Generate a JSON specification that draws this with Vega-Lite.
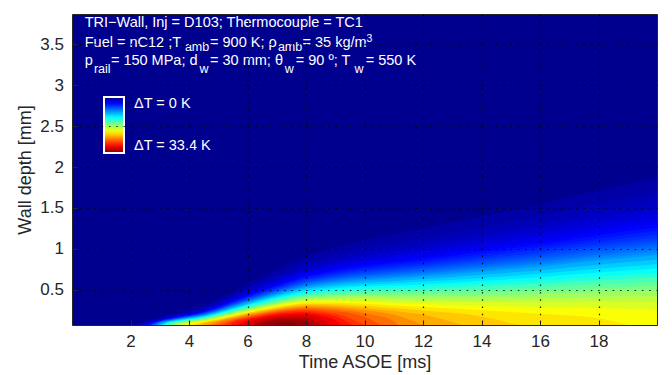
{
  "$schema": "https://vega.github.io/schema/vega-lite/v6.json",
  "width": 585,
  "height": 311,
  "autosize": "none",
  "padding": {"left": 72, "top": 14, "right": 15, "bottom": 50},
  "background": "white",
  "config": {
    "view": {"fill": "#00008F", "stroke": "#262626", "strokeWidth": 1},
    "font": "Liberation Sans"
  },
  "datasets": {
    "bands": [
      {"T":0.75,"t":2.104,"d":0.07},{"T":0.75,"t":2.25,"d":0.093},{"T":0.75,"t":2.5,"d":0.117},{"T":0.75,"t":2.75,"d":0.141},{"T":0.75,"t":3,"d":0.165},{"T":0.75,"t":3.25,"d":0.189},{"T":0.75,"t":3.5,"d":0.211},{"T":0.75,"t":3.75,"d":0.232},{"T":0.75,"t":4,"d":0.254},{"T":0.75,"t":4.5,"d":0.305},{"T":0.75,"t":5,"d":0.388},{"T":0.75,"t":5.5,"d":0.482},{"T":0.75,"t":6,"d":0.577},{"T":0.75,"t":6.5,"d":0.662},{"T":0.75,"t":7,"d":0.746},{"T":0.75,"t":7.5,"d":0.828},{"T":0.75,"t":8,"d":0.908},{"T":0.75,"t":8.5,"d":0.964},{"T":0.75,"t":9,"d":1.019},{"T":0.75,"t":10,"d":1.109},{"T":0.75,"t":11,"d":1.179},{"T":0.75,"t":12,"d":1.25},{"T":0.75,"t":14,"d":1.397},{"T":0.75,"t":16,"d":1.546},{"T":0.75,"t":18,"d":1.715},{"T":0.75,"t":20,"d":1.866},
      {"T":1.25,"t":2.208,"d":0.07},{"T":1.25,"t":2.25,"d":0.081},{"T":1.25,"t":2.5,"d":0.107},{"T":1.25,"t":2.75,"d":0.13},{"T":1.25,"t":3,"d":0.153},{"T":1.25,"t":3.25,"d":0.176},{"T":1.25,"t":3.5,"d":0.196},{"T":1.25,"t":3.75,"d":0.216},{"T":1.25,"t":4,"d":0.236},{"T":1.25,"t":4.5,"d":0.283},{"T":1.25,"t":5,"d":0.359},{"T":1.25,"t":5.5,"d":0.445},{"T":1.25,"t":6,"d":0.532},{"T":1.25,"t":6.5,"d":0.61},{"T":1.25,"t":7,"d":0.688},{"T":1.25,"t":7.5,"d":0.763},{"T":1.25,"t":8,"d":0.835},{"T":1.25,"t":8.5,"d":0.885},{"T":1.25,"t":9,"d":0.935},{"T":1.25,"t":10,"d":1.014},{"T":1.25,"t":11,"d":1.076},{"T":1.25,"t":12,"d":1.14},{"T":1.25,"t":14,"d":1.27},{"T":1.25,"t":16,"d":1.403},{"T":1.25,"t":18,"d":1.556},{"T":1.25,"t":20,"d":1.69},
      {"T":1.75,"t":2.292,"d":0.07},{"T":1.75,"t":2.5,"d":0.1},{"T":1.75,"t":2.75,"d":0.124},{"T":1.75,"t":3,"d":0.147},{"T":1.75,"t":3.25,"d":0.169},{"T":1.75,"t":3.5,"d":0.188},{"T":1.75,"t":3.75,"d":0.207},{"T":1.75,"t":4,"d":0.226},{"T":1.75,"t":4.5,"d":0.271},{"T":1.75,"t":5,"d":0.34},{"T":1.75,"t":5.5,"d":0.422},{"T":1.75,"t":6,"d":0.504},{"T":1.75,"t":6.5,"d":0.578},{"T":1.75,"t":7,"d":0.651},{"T":1.75,"t":7.5,"d":0.722},{"T":1.75,"t":8,"d":0.789},{"T":1.75,"t":8.5,"d":0.836},{"T":1.75,"t":9,"d":0.881},{"T":1.75,"t":10,"d":0.954},{"T":1.75,"t":11,"d":1.011},{"T":1.75,"t":12,"d":1.069},{"T":1.75,"t":14,"d":1.189},{"T":1.75,"t":16,"d":1.312},{"T":1.75,"t":18,"d":1.453},{"T":1.75,"t":20,"d":1.578},
      {"T":2.25,"t":2.361,"d":0.07},{"T":2.25,"t":2.5,"d":0.092},{"T":2.25,"t":2.75,"d":0.117},{"T":2.25,"t":3,"d":0.14},{"T":2.25,"t":3.25,"d":0.161},{"T":2.25,"t":3.5,"d":0.18},{"T":2.25,"t":3.75,"d":0.198},{"T":2.25,"t":4,"d":0.216},{"T":2.25,"t":4.5,"d":0.258},{"T":2.25,"t":5,"d":0.326},{"T":2.25,"t":5.5,"d":0.404},{"T":2.25,"t":6,"d":0.483},{"T":2.25,"t":6.5,"d":0.553},{"T":2.25,"t":7,"d":0.623},{"T":2.25,"t":7.5,"d":0.691},{"T":2.25,"t":8,"d":0.755},{"T":2.25,"t":8.5,"d":0.799},{"T":2.25,"t":9,"d":0.841},{"T":2.25,"t":10,"d":0.909},{"T":2.25,"t":11,"d":0.962},{"T":2.25,"t":12,"d":1.016},{"T":2.25,"t":14,"d":1.128},{"T":2.25,"t":16,"d":1.243},{"T":2.25,"t":18,"d":1.376},{"T":2.25,"t":20,"d":1.493},
      {"T":2.75,"t":2.431,"d":0.07},{"T":2.75,"t":2.5,"d":0.081},{"T":2.75,"t":2.75,"d":0.113},{"T":2.75,"t":3,"d":0.135},{"T":2.75,"t":3.25,"d":0.156},{"T":2.75,"t":3.5,"d":0.175},{"T":2.75,"t":3.75,"d":0.192},{"T":2.75,"t":4,"d":0.21},{"T":2.75,"t":4.5,"d":0.25},{"T":2.75,"t":5,"d":0.315},{"T":2.75,"t":5.5,"d":0.39},{"T":2.75,"t":6,"d":0.465},{"T":2.75,"t":6.5,"d":0.534},{"T":2.75,"t":7,"d":0.601},{"T":2.75,"t":7.5,"d":0.665},{"T":2.75,"t":8,"d":0.727},{"T":2.75,"t":8.5,"d":0.768},{"T":2.75,"t":9,"d":0.808},{"T":2.75,"t":10,"d":0.872},{"T":2.75,"t":11,"d":0.921},{"T":2.75,"t":12,"d":0.972},{"T":2.75,"t":14,"d":1.078},{"T":2.75,"t":16,"d":1.187},{"T":2.75,"t":18,"d":1.313},{"T":2.75,"t":20,"d":1.424},
      {"T":3.25,"t":2.5,"d":0.07},{"T":3.25,"t":2.75,"d":0.108},{"T":3.25,"t":3,"d":0.13},{"T":3.25,"t":3.25,"d":0.151},{"T":3.25,"t":3.5,"d":0.169},{"T":3.25,"t":3.75,"d":0.186},{"T":3.25,"t":4,"d":0.203},{"T":3.25,"t":4.5,"d":0.242},{"T":3.25,"t":5,"d":0.305},{"T":3.25,"t":5.5,"d":0.378},{"T":3.25,"t":6,"d":0.451},{"T":3.25,"t":6.5,"d":0.517},{"T":3.25,"t":7,"d":0.582},{"T":3.25,"t":7.5,"d":0.644},{"T":3.25,"t":8,"d":0.703},{"T":3.25,"t":8.5,"d":0.742},{"T":3.25,"t":9,"d":0.781},{"T":3.25,"t":10,"d":0.841},{"T":3.25,"t":11,"d":0.887},{"T":3.25,"t":12,"d":0.935},{"T":3.25,"t":14,"d":1.036},{"T":3.25,"t":16,"d":1.139},{"T":3.25,"t":18,"d":1.258},{"T":3.25,"t":20,"d":1.364},
      {"T":3.75,"t":2.542,"d":0.07},{"T":3.75,"t":2.75,"d":0.104},{"T":3.75,"t":3,"d":0.127},{"T":3.75,"t":3.25,"d":0.147},{"T":3.75,"t":3.5,"d":0.165},{"T":3.75,"t":3.75,"d":0.182},{"T":3.75,"t":4,"d":0.198},{"T":3.75,"t":4.5,"d":0.236},{"T":3.75,"t":5,"d":0.297},{"T":3.75,"t":5.5,"d":0.367},{"T":3.75,"t":6,"d":0.438},{"T":3.75,"t":6.5,"d":0.502},{"T":3.75,"t":7,"d":0.565},{"T":3.75,"t":7.5,"d":0.625},{"T":3.75,"t":8,"d":0.682},{"T":3.75,"t":8.5,"d":0.72},{"T":3.75,"t":9,"d":0.756},{"T":3.75,"t":10,"d":0.813},{"T":3.75,"t":11,"d":0.857},{"T":3.75,"t":12,"d":0.902},{"T":3.75,"t":14,"d":0.998},{"T":3.75,"t":16,"d":1.097},{"T":3.75,"t":18,"d":1.211},{"T":3.75,"t":20,"d":1.312},
      {"T":4.25,"t":2.583,"d":0.07},{"T":4.25,"t":2.75,"d":0.099},{"T":4.25,"t":3,"d":0.123},{"T":4.25,"t":3.25,"d":0.143},{"T":4.25,"t":3.5,"d":0.16},{"T":4.25,"t":3.75,"d":0.177},{"T":4.25,"t":4,"d":0.192},{"T":4.25,"t":4.5,"d":0.23},{"T":4.25,"t":5,"d":0.289},{"T":4.25,"t":5.5,"d":0.357},{"T":4.25,"t":6,"d":0.426},{"T":4.25,"t":6.5,"d":0.489},{"T":4.25,"t":7,"d":0.55},{"T":4.25,"t":7.5,"d":0.609},{"T":4.25,"t":8,"d":0.663},{"T":4.25,"t":8.5,"d":0.7},{"T":4.25,"t":9,"d":0.735},{"T":4.25,"t":10,"d":0.789},{"T":4.25,"t":11,"d":0.83},{"T":4.25,"t":12,"d":0.873},{"T":4.25,"t":14,"d":0.964},{"T":4.25,"t":16,"d":1.058},{"T":4.25,"t":18,"d":1.168},{"T":4.25,"t":20,"d":1.264},
      {"T":4.75,"t":2.625,"d":0.07},{"T":4.75,"t":2.75,"d":0.094},{"T":4.75,"t":3,"d":0.12},{"T":4.75,"t":3.25,"d":0.14},{"T":4.75,"t":3.5,"d":0.157},{"T":4.75,"t":3.75,"d":0.173},{"T":4.75,"t":4,"d":0.188},{"T":4.75,"t":4.5,"d":0.225},{"T":4.75,"t":5,"d":0.282},{"T":4.75,"t":5.5,"d":0.349},{"T":4.75,"t":6,"d":0.416},{"T":4.75,"t":6.5,"d":0.477},{"T":4.75,"t":7,"d":0.537},{"T":4.75,"t":7.5,"d":0.594},{"T":4.75,"t":8,"d":0.646},{"T":4.75,"t":8.5,"d":0.681},{"T":4.75,"t":9,"d":0.714},{"T":4.75,"t":10,"d":0.766},{"T":4.75,"t":11,"d":0.805},{"T":4.75,"t":12,"d":0.846},{"T":4.75,"t":14,"d":0.933},{"T":4.75,"t":16,"d":1.023},{"T":4.75,"t":18,"d":1.128},{"T":4.75,"t":20,"d":1.221},
      {"T":5.25,"t":2.667,"d":0.07},{"T":5.25,"t":2.75,"d":0.089},{"T":5.25,"t":3,"d":0.116},{"T":5.25,"t":3.25,"d":0.136},{"T":5.25,"t":3.5,"d":0.153},{"T":5.25,"t":3.75,"d":0.169},{"T":5.25,"t":4,"d":0.184},{"T":5.25,"t":4.5,"d":0.219},{"T":5.25,"t":5,"d":0.275},{"T":5.25,"t":5.5,"d":0.341},{"T":5.25,"t":6,"d":0.406},{"T":5.25,"t":6.5,"d":0.466},{"T":5.25,"t":7,"d":0.524},{"T":5.25,"t":7.5,"d":0.58},{"T":5.25,"t":8,"d":0.631},{"T":5.25,"t":8.5,"d":0.664},{"T":5.25,"t":9,"d":0.696},{"T":5.25,"t":10,"d":0.745},{"T":5.25,"t":11,"d":0.782},{"T":5.25,"t":12,"d":0.822},{"T":5.25,"t":14,"d":0.904},{"T":5.25,"t":16,"d":0.991},{"T":5.25,"t":18,"d":1.092},{"T":5.25,"t":20,"d":1.18},
      {"T":5.75,"t":2.708,"d":0.07},{"T":5.75,"t":2.75,"d":0.08},{"T":5.75,"t":3,"d":0.113},{"T":5.75,"t":3.25,"d":0.133},{"T":5.75,"t":3.5,"d":0.15},{"T":5.75,"t":3.75,"d":0.166},{"T":5.75,"t":4,"d":0.18},{"T":5.75,"t":4.5,"d":0.215},{"T":5.75,"t":5,"d":0.269},{"T":5.75,"t":5.5,"d":0.333},{"T":5.75,"t":6,"d":0.397},{"T":5.75,"t":6.5,"d":0.455},{"T":5.75,"t":7,"d":0.513},{"T":5.75,"t":7.5,"d":0.567},{"T":5.75,"t":8,"d":0.616},{"T":5.75,"t":8.5,"d":0.649},{"T":5.75,"t":9,"d":0.679},{"T":5.75,"t":10,"d":0.726},{"T":5.75,"t":11,"d":0.761},{"T":5.75,"t":12,"d":0.798},{"T":5.75,"t":14,"d":0.877},{"T":5.75,"t":16,"d":0.96},{"T":5.75,"t":18,"d":1.057},{"T":5.75,"t":20,"d":1.142},
      {"T":6.25,"t":2.75,"d":0.07},{"T":6.25,"t":3,"d":0.109},{"T":6.25,"t":3.25,"d":0.13},{"T":6.25,"t":3.5,"d":0.147},{"T":6.25,"t":3.75,"d":0.162},{"T":6.25,"t":4,"d":0.176},{"T":6.25,"t":4.5,"d":0.21},{"T":6.25,"t":5,"d":0.264},{"T":6.25,"t":5.5,"d":0.326},{"T":6.25,"t":6,"d":0.389},{"T":6.25,"t":6.5,"d":0.446},{"T":6.25,"t":7,"d":0.502},{"T":6.25,"t":7.5,"d":0.554},{"T":6.25,"t":8,"d":0.603},{"T":6.25,"t":8.5,"d":0.634},{"T":6.25,"t":9,"d":0.663},{"T":6.25,"t":10,"d":0.708},{"T":6.25,"t":11,"d":0.741},{"T":6.25,"t":12,"d":0.776},{"T":6.25,"t":14,"d":0.852},{"T":6.25,"t":16,"d":0.932},{"T":6.25,"t":18,"d":1.025},{"T":6.25,"t":20,"d":1.107},
      {"T":6.75,"t":2.781,"d":0.07},{"T":6.75,"t":3,"d":0.106},{"T":6.75,"t":3.25,"d":0.127},{"T":6.75,"t":3.5,"d":0.144},{"T":6.75,"t":3.75,"d":0.159},{"T":6.75,"t":4,"d":0.173},{"T":6.75,"t":4.5,"d":0.206},{"T":6.75,"t":5,"d":0.258},{"T":6.75,"t":5.5,"d":0.319},{"T":6.75,"t":6,"d":0.381},{"T":6.75,"t":6.5,"d":0.437},{"T":6.75,"t":7,"d":0.491},{"T":6.75,"t":7.5,"d":0.543},{"T":6.75,"t":8,"d":0.59},{"T":6.75,"t":8.5,"d":0.62},{"T":6.75,"t":9,"d":0.648},{"T":6.75,"t":10,"d":0.69},{"T":6.75,"t":11,"d":0.722},{"T":6.75,"t":12,"d":0.756},{"T":6.75,"t":14,"d":0.828},{"T":6.75,"t":16,"d":0.904},{"T":6.75,"t":18,"d":0.994},{"T":6.75,"t":20,"d":1.073},
      {"T":7.25,"t":2.813,"d":0.07},{"T":7.25,"t":3,"d":0.103},{"T":7.25,"t":3.25,"d":0.124},{"T":7.25,"t":3.5,"d":0.141},{"T":7.25,"t":3.75,"d":0.156},{"T":7.25,"t":4,"d":0.17},{"T":7.25,"t":4.5,"d":0.202},{"T":7.25,"t":5,"d":0.253},{"T":7.25,"t":5.5,"d":0.313},{"T":7.25,"t":6,"d":0.373},{"T":7.25,"t":6.5,"d":0.428},{"T":7.25,"t":7,"d":0.482},{"T":7.25,"t":7.5,"d":0.532},{"T":7.25,"t":8,"d":0.578},{"T":7.25,"t":8.5,"d":0.607},{"T":7.25,"t":9,"d":0.634},{"T":7.25,"t":10,"d":0.674},{"T":7.25,"t":11,"d":0.704},{"T":7.25,"t":12,"d":0.736},{"T":7.25,"t":14,"d":0.805},{"T":7.25,"t":16,"d":0.878},{"T":7.25,"t":18,"d":0.965},{"T":7.25,"t":20,"d":1.041},
      {"T":7.75,"t":2.844,"d":0.07},{"T":7.75,"t":3,"d":0.1},{"T":7.75,"t":3.25,"d":0.122},{"T":7.75,"t":3.5,"d":0.138},{"T":7.75,"t":3.75,"d":0.153},{"T":7.75,"t":4,"d":0.167},{"T":7.75,"t":4.5,"d":0.199},{"T":7.75,"t":5,"d":0.248},{"T":7.75,"t":5.5,"d":0.307},{"T":7.75,"t":6,"d":0.366},{"T":7.75,"t":6.5,"d":0.42},{"T":7.75,"t":7,"d":0.473},{"T":7.75,"t":7.5,"d":0.522},{"T":7.75,"t":8,"d":0.566},{"T":7.75,"t":8.5,"d":0.594},{"T":7.75,"t":9,"d":0.62},{"T":7.75,"t":10,"d":0.659},{"T":7.75,"t":11,"d":0.687},{"T":7.75,"t":12,"d":0.717},{"T":7.75,"t":14,"d":0.783},{"T":7.75,"t":16,"d":0.853},{"T":7.75,"t":18,"d":0.936},{"T":7.75,"t":20,"d":1.009},
      {"T":8.25,"t":2.875,"d":0.07},{"T":8.25,"t":3,"d":0.096},{"T":8.25,"t":3.25,"d":0.119},{"T":8.25,"t":3.5,"d":0.135},{"T":8.25,"t":3.75,"d":0.15},{"T":8.25,"t":4,"d":0.163},{"T":8.25,"t":4.5,"d":0.195},{"T":8.25,"t":5,"d":0.244},{"T":8.25,"t":5.5,"d":0.301},{"T":8.25,"t":6,"d":0.359},{"T":8.25,"t":6.5,"d":0.412},{"T":8.25,"t":7,"d":0.464},{"T":8.25,"t":7.5,"d":0.512},{"T":8.25,"t":8,"d":0.555},{"T":8.25,"t":8.5,"d":0.582},{"T":8.25,"t":9,"d":0.607},{"T":8.25,"t":10,"d":0.644},{"T":8.25,"t":11,"d":0.67},{"T":8.25,"t":12,"d":0.699},{"T":8.25,"t":14,"d":0.762},{"T":8.25,"t":16,"d":0.829},{"T":8.25,"t":18,"d":0.909},{"T":8.25,"t":20,"d":0.98},
      {"T":8.75,"t":2.906,"d":0.07},{"T":8.75,"t":3,"d":0.092},{"T":8.75,"t":3.25,"d":0.116},{"T":8.75,"t":3.5,"d":0.133},{"T":8.75,"t":3.75,"d":0.147},{"T":8.75,"t":4,"d":0.161},{"T":8.75,"t":4.5,"d":0.192},{"T":8.75,"t":5,"d":0.239},{"T":8.75,"t":5.5,"d":0.296},{"T":8.75,"t":6,"d":0.353},{"T":8.75,"t":6.5,"d":0.405},{"T":8.75,"t":7,"d":0.455},{"T":8.75,"t":7.5,"d":0.502},{"T":8.75,"t":8,"d":0.545},{"T":8.75,"t":8.5,"d":0.571},{"T":8.75,"t":9,"d":0.594},{"T":8.75,"t":10,"d":0.629},{"T":8.75,"t":11,"d":0.654},{"T":8.75,"t":12,"d":0.681},{"T":8.75,"t":14,"d":0.741},{"T":8.75,"t":16,"d":0.806},{"T":8.75,"t":18,"d":0.883},{"T":8.75,"t":20,"d":0.95},
      {"T":9.5,"t":2.938,"d":0.07},{"T":9.5,"t":3,"d":0.088},{"T":9.5,"t":3.25,"d":0.113},{"T":9.5,"t":3.5,"d":0.13},{"T":9.5,"t":3.75,"d":0.144},{"T":9.5,"t":4,"d":0.158},{"T":9.5,"t":4.5,"d":0.188},{"T":9.5,"t":5,"d":0.235},{"T":9.5,"t":5.5,"d":0.29},{"T":9.5,"t":6,"d":0.346},{"T":9.5,"t":6.5,"d":0.397},{"T":9.5,"t":7,"d":0.447},{"T":9.5,"t":7.5,"d":0.493},{"T":9.5,"t":8,"d":0.535},{"T":9.5,"t":8.5,"d":0.559},{"T":9.5,"t":9,"d":0.582},{"T":9.5,"t":10,"d":0.615},{"T":9.5,"t":11,"d":0.638},{"T":9.5,"t":12,"d":0.664},{"T":9.5,"t":14,"d":0.721},{"T":9.5,"t":16,"d":0.783},{"T":9.5,"t":18,"d":0.857},{"T":9.5,"t":20,"d":0.921},
      {"T":10.5,"t":3,"d":0.07},{"T":10.5,"t":3.25,"d":0.108},{"T":10.5,"t":3.5,"d":0.125},{"T":10.5,"t":3.75,"d":0.139},{"T":10.5,"t":4,"d":0.152},{"T":10.5,"t":4.5,"d":0.181},{"T":10.5,"t":5,"d":0.226},{"T":10.5,"t":5.5,"d":0.28},{"T":10.5,"t":6,"d":0.334},{"T":10.5,"t":6.5,"d":0.384},{"T":10.5,"t":7,"d":0.432},{"T":10.5,"t":7.5,"d":0.476},{"T":10.5,"t":8,"d":0.515},{"T":10.5,"t":8.5,"d":0.538},{"T":10.5,"t":9,"d":0.559},{"T":10.5,"t":10,"d":0.588},{"T":10.5,"t":11,"d":0.608},{"T":10.5,"t":12,"d":0.631},{"T":10.5,"t":14,"d":0.683},{"T":10.5,"t":16,"d":0.739},{"T":10.5,"t":18,"d":0.807},{"T":10.5,"t":20,"d":0.866},
      {"T":11.5,"t":3.063,"d":0.07},{"T":11.5,"t":3.25,"d":0.102},{"T":11.5,"t":3.5,"d":0.119},{"T":11.5,"t":3.75,"d":0.134},{"T":11.5,"t":4,"d":0.146},{"T":11.5,"t":4.5,"d":0.175},{"T":11.5,"t":5,"d":0.218},{"T":11.5,"t":5.5,"d":0.27},{"T":11.5,"t":6,"d":0.322},{"T":11.5,"t":6.5,"d":0.371},{"T":11.5,"t":7,"d":0.417},{"T":11.5,"t":7.5,"d":0.46},{"T":11.5,"t":8,"d":0.497},{"T":11.5,"t":8.5,"d":0.518},{"T":11.5,"t":9,"d":0.537},{"T":11.5,"t":10,"d":0.563},{"T":11.5,"t":11,"d":0.58},{"T":11.5,"t":12,"d":0.6},{"T":11.5,"t":14,"d":0.645},{"T":11.5,"t":16,"d":0.696},{"T":11.5,"t":18,"d":0.758},{"T":11.5,"t":20,"d":0.812},
      {"T":12.5,"t":3.125,"d":0.07},{"T":12.5,"t":3.25,"d":0.096},{"T":12.5,"t":3.5,"d":0.114},{"T":12.5,"t":3.75,"d":0.129},{"T":12.5,"t":4,"d":0.141},{"T":12.5,"t":4.5,"d":0.168},{"T":12.5,"t":5,"d":0.211},{"T":12.5,"t":5.5,"d":0.261},{"T":12.5,"t":6,"d":0.311},{"T":12.5,"t":6.5,"d":0.358},{"T":12.5,"t":7,"d":0.403},{"T":12.5,"t":7.5,"d":0.444},{"T":12.5,"t":8,"d":0.479},{"T":12.5,"t":8.5,"d":0.499},{"T":12.5,"t":9,"d":0.516},{"T":12.5,"t":10,"d":0.539},{"T":12.5,"t":11,"d":0.552},{"T":12.5,"t":12,"d":0.569},{"T":12.5,"t":14,"d":0.609},{"T":12.5,"t":16,"d":0.654},{"T":12.5,"t":18,"d":0.711},{"T":12.5,"t":20,"d":0.76},
      {"T":13.5,"t":3.188,"d":0.07},{"T":13.5,"t":3.25,"d":0.088},{"T":13.5,"t":3.5,"d":0.109},{"T":13.5,"t":3.75,"d":0.123},{"T":13.5,"t":4,"d":0.136},{"T":13.5,"t":4.5,"d":0.162},{"T":13.5,"t":5,"d":0.203},{"T":13.5,"t":5.5,"d":0.252},{"T":13.5,"t":6,"d":0.301},{"T":13.5,"t":6.5,"d":0.346},{"T":13.5,"t":7,"d":0.39},{"T":13.5,"t":7.5,"d":0.429},{"T":13.5,"t":8,"d":0.462},{"T":13.5,"t":8.5,"d":0.48},{"T":13.5,"t":9,"d":0.495},{"T":13.5,"t":10,"d":0.515},{"T":13.5,"t":11,"d":0.526},{"T":13.5,"t":12,"d":0.54},{"T":13.5,"t":14,"d":0.574},{"T":13.5,"t":16,"d":0.614},{"T":13.5,"t":18,"d":0.664},{"T":13.5,"t":20,"d":0.708},
      {"T":14.5,"t":3.25,"d":0.07},{"T":14.5,"t":3.5,"d":0.103},{"T":14.5,"t":3.75,"d":0.118},{"T":14.5,"t":4,"d":0.131},{"T":14.5,"t":4.5,"d":0.156},{"T":14.5,"t":5,"d":0.196},{"T":14.5,"t":5.5,"d":0.243},{"T":14.5,"t":6,"d":0.291},{"T":14.5,"t":6.5,"d":0.335},{"T":14.5,"t":7,"d":0.377},{"T":14.5,"t":7.5,"d":0.415},{"T":14.5,"t":8,"d":0.446},{"T":14.5,"t":8.5,"d":0.462},{"T":14.5,"t":9,"d":0.476},{"T":14.5,"t":10,"d":0.492},{"T":14.5,"t":11,"d":0.5},{"T":14.5,"t":12,"d":0.51},{"T":14.5,"t":14,"d":0.539},{"T":14.5,"t":16,"d":0.573},{"T":14.5,"t":18,"d":0.617},{"T":14.5,"t":20,"d":0.655},
      {"T":15.5,"t":3.333,"d":0.07},{"T":15.5,"t":3.5,"d":0.097},{"T":15.5,"t":3.75,"d":0.113},{"T":15.5,"t":4,"d":0.125},{"T":15.5,"t":4.5,"d":0.15},{"T":15.5,"t":5,"d":0.189},{"T":15.5,"t":5.5,"d":0.234},{"T":15.5,"t":6,"d":0.281},{"T":15.5,"t":6.5,"d":0.323},{"T":15.5,"t":7,"d":0.364},{"T":15.5,"t":7.5,"d":0.401},{"T":15.5,"t":8,"d":0.43},{"T":15.5,"t":8.5,"d":0.445},{"T":15.5,"t":9,"d":0.456},{"T":15.5,"t":10,"d":0.469},{"T":15.5,"t":11,"d":0.473},{"T":15.5,"t":12,"d":0.482},{"T":15.5,"t":14,"d":0.503},{"T":15.5,"t":16,"d":0.531},{"T":15.5,"t":18,"d":0.57},{"T":15.5,"t":20,"d":0.602},
      {"T":16.5,"t":3.417,"d":0.07},{"T":16.5,"t":3.5,"d":0.088},{"T":16.5,"t":3.75,"d":0.107},{"T":16.5,"t":4,"d":0.12},{"T":16.5,"t":4.5,"d":0.144},{"T":16.5,"t":5,"d":0.181},{"T":16.5,"t":5.5,"d":0.226},{"T":16.5,"t":6,"d":0.271},{"T":16.5,"t":6.5,"d":0.312},{"T":16.5,"t":7,"d":0.352},{"T":16.5,"t":7.5,"d":0.387},{"T":16.5,"t":8,"d":0.415},{"T":16.5,"t":8.5,"d":0.428},{"T":16.5,"t":9,"d":0.438},{"T":16.5,"t":10,"d":0.446},{"T":16.5,"t":11,"d":0.447},{"T":16.5,"t":12,"d":0.452},{"T":16.5,"t":14,"d":0.467},{"T":16.5,"t":16,"d":0.489},{"T":16.5,"t":18,"d":0.52},{"T":16.5,"t":20,"d":0.546},
      {"T":17.5,"t":3.5,"d":0.07},{"T":17.5,"t":3.75,"d":0.1},{"T":17.5,"t":4,"d":0.114},{"T":17.5,"t":4.5,"d":0.138},{"T":17.5,"t":5,"d":0.174},{"T":17.5,"t":5.5,"d":0.217},{"T":17.5,"t":6,"d":0.261},{"T":17.5,"t":6.5,"d":0.302},{"T":17.5,"t":7,"d":0.34},{"T":17.5,"t":7.5,"d":0.374},{"T":17.5,"t":8,"d":0.4},{"T":17.5,"t":8.5,"d":0.411},{"T":17.5,"t":9,"d":0.419},{"T":17.5,"t":10,"d":0.424},{"T":17.5,"t":11,"d":0.422},{"T":17.5,"t":12,"d":0.422},{"T":17.5,"t":14,"d":0.43},{"T":17.5,"t":16,"d":0.445},{"T":17.5,"t":18,"d":0.469},{"T":17.5,"t":20,"d":0.488},
      {"T":18.5,"t":3.609,"d":0.07},{"T":18.5,"t":3.75,"d":0.093},{"T":18.5,"t":4,"d":0.107},{"T":18.5,"t":4.5,"d":0.132},{"T":18.5,"t":5,"d":0.167},{"T":18.5,"t":5.5,"d":0.209},{"T":18.5,"t":6,"d":0.252},{"T":18.5,"t":6.5,"d":0.291},{"T":18.5,"t":7,"d":0.328},{"T":18.5,"t":7.5,"d":0.36},{"T":18.5,"t":8,"d":0.385},{"T":18.5,"t":8.5,"d":0.395},{"T":18.5,"t":9,"d":0.4},{"T":18.5,"t":10,"d":0.401},{"T":18.5,"t":11,"d":0.395},{"T":18.5,"t":12,"d":0.392},{"T":18.5,"t":14,"d":0.392},{"T":18.5,"t":16,"d":0.398},{"T":18.5,"t":18,"d":0.414},{"T":18.5,"t":20,"d":0.424},
      {"T":19.5,"t":3.717,"d":0.07},{"T":19.5,"t":3.75,"d":0.081},{"T":19.5,"t":4,"d":0.1},{"T":19.5,"t":4.5,"d":0.125},{"T":19.5,"t":5,"d":0.16},{"T":19.5,"t":5.5,"d":0.201},{"T":19.5,"t":6,"d":0.242},{"T":19.5,"t":6.5,"d":0.281},{"T":19.5,"t":7,"d":0.317},{"T":19.5,"t":7.5,"d":0.347},{"T":19.5,"t":8,"d":0.371},{"T":19.5,"t":8.5,"d":0.378},{"T":19.5,"t":9,"d":0.382},{"T":19.5,"t":10,"d":0.378},{"T":19.5,"t":11,"d":0.368},{"T":19.5,"t":12,"d":0.36},{"T":19.5,"t":14,"d":0.35},{"T":19.5,"t":16,"d":0.347},{"T":19.5,"t":18,"d":0.352},{"T":19.5,"t":20,"d":0.351},
      {"T":20.5,"t":3.853,"d":0.07},{"T":20.5,"t":4,"d":0.091},{"T":20.5,"t":4.5,"d":0.118},{"T":20.5,"t":5,"d":0.152},{"T":20.5,"t":5.5,"d":0.192},{"T":20.5,"t":6,"d":0.232},{"T":20.5,"t":6.5,"d":0.27},{"T":20.5,"t":7,"d":0.305},{"T":20.5,"t":7.5,"d":0.334},{"T":20.5,"t":8,"d":0.355},{"T":20.5,"t":8.5,"d":0.361},{"T":20.5,"t":9,"d":0.363},{"T":20.5,"t":10,"d":0.355},{"T":20.5,"t":11,"d":0.339},{"T":20.5,"t":12,"d":0.326},{"T":20.5,"t":14,"d":0.304},{"T":20.5,"t":16,"d":0.287},{"T":20.5,"t":18,"d":0.275},{"T":20.5,"t":20,"d":0.253},
      {"T":21.5,"t":4,"d":0.07},{"T":21.5,"t":4.5,"d":0.11},{"T":21.5,"t":5,"d":0.144},{"T":21.5,"t":5.5,"d":0.183},{"T":21.5,"t":6,"d":0.223},{"T":21.5,"t":6.5,"d":0.26},{"T":21.5,"t":7,"d":0.293},{"T":21.5,"t":7.5,"d":0.321},{"T":21.5,"t":8,"d":0.341},{"T":21.5,"t":8.5,"d":0.345},{"T":21.5,"t":9,"d":0.344},{"T":21.5,"t":10,"d":0.331},{"T":21.5,"t":11,"d":0.309},{"T":21.5,"t":12,"d":0.289},{"T":21.5,"t":14,"d":0.249},{"T":21.5,"t":16,"d":0.206},{"T":21.5,"t":18,"d":0.151},{"T":21.5,"t":19,"d":0.07},
      {"T":22.5,"t":4.2,"d":0.07},{"T":22.5,"t":4.5,"d":0.101},{"T":22.5,"t":5,"d":0.135},{"T":22.5,"t":5.5,"d":0.174},{"T":22.5,"t":6,"d":0.213},{"T":22.5,"t":6.5,"d":0.249},{"T":22.5,"t":7,"d":0.282},{"T":22.5,"t":7.5,"d":0.308},{"T":22.5,"t":8,"d":0.326},{"T":22.5,"t":8.5,"d":0.328},{"T":22.5,"t":9,"d":0.324},{"T":22.5,"t":10,"d":0.306},{"T":22.5,"t":11,"d":0.277},{"T":22.5,"t":12,"d":0.247},{"T":22.5,"t":14,"d":0.173},{"T":22.5,"t":15.25,"d":0.07},
      {"T":23.5,"t":4.4,"d":0.07},{"T":23.5,"t":4.5,"d":0.088},{"T":23.5,"t":5,"d":0.126},{"T":23.5,"t":5.5,"d":0.165},{"T":23.5,"t":6,"d":0.203},{"T":23.5,"t":6.5,"d":0.238},{"T":23.5,"t":7,"d":0.27},{"T":23.5,"t":7.5,"d":0.295},{"T":23.5,"t":8,"d":0.311},{"T":23.5,"t":8.5,"d":0.311},{"T":23.5,"t":9,"d":0.305},{"T":23.5,"t":10,"d":0.279},{"T":23.5,"t":11,"d":0.24},{"T":23.5,"t":12,"d":0.194},{"T":23.5,"t":13.333,"d":0.07},
      {"T":24.5,"t":4.6,"d":0.07},{"T":24.5,"t":5,"d":0.115},{"T":24.5,"t":5.5,"d":0.155},{"T":24.5,"t":6,"d":0.193},{"T":24.5,"t":6.5,"d":0.227},{"T":24.5,"t":7,"d":0.258},{"T":24.5,"t":7.5,"d":0.282},{"T":24.5,"t":8,"d":0.296},{"T":24.5,"t":8.5,"d":0.293},{"T":24.5,"t":9,"d":0.283},{"T":24.5,"t":10,"d":0.249},{"T":24.5,"t":11,"d":0.194},{"T":24.5,"t":12,"d":0.07},
      {"T":25.5,"t":4.8,"d":0.07},{"T":25.5,"t":5,"d":0.102},{"T":25.5,"t":5.5,"d":0.144},{"T":25.5,"t":6,"d":0.182},{"T":25.5,"t":6.5,"d":0.216},{"T":25.5,"t":7,"d":0.246},{"T":25.5,"t":7.5,"d":0.268},{"T":25.5,"t":8,"d":0.28},{"T":25.5,"t":8.5,"d":0.274},{"T":25.5,"t":9,"d":0.261},{"T":25.5,"t":10,"d":0.214},{"T":25.5,"t":11,"d":0.12},{"T":25.5,"t":11.167,"d":0.07},
      {"T":26.5,"t":5,"d":0.07},{"T":26.5,"t":5.5,"d":0.132},{"T":26.5,"t":6,"d":0.17},{"T":26.5,"t":6.5,"d":0.204},{"T":26.5,"t":7,"d":0.233},{"T":26.5,"t":7.5,"d":0.254},{"T":26.5,"t":8,"d":0.264},{"T":26.5,"t":8.5,"d":0.255},{"T":26.5,"t":9,"d":0.237},{"T":26.5,"t":10,"d":0.171},{"T":26.5,"t":10.556,"d":0.07},
      {"T":27.5,"t":5.2,"d":0.07},{"T":27.5,"t":5.5,"d":0.118},{"T":27.5,"t":6,"d":0.157},{"T":27.5,"t":6.5,"d":0.192},{"T":27.5,"t":7,"d":0.22},{"T":27.5,"t":7.5,"d":0.24},{"T":27.5,"t":8,"d":0.246},{"T":27.5,"t":8.5,"d":0.233},{"T":27.5,"t":9,"d":0.21},{"T":27.5,"t":10,"d":0.07},
      {"T":28.5,"t":5.4,"d":0.07},{"T":28.5,"t":5.5,"d":0.098},{"T":28.5,"t":6,"d":0.143},{"T":28.5,"t":6.5,"d":0.179},{"T":28.5,"t":7,"d":0.207},{"T":28.5,"t":7.5,"d":0.224},{"T":28.5,"t":8,"d":0.228},{"T":28.5,"t":8.5,"d":0.21},{"T":28.5,"t":9,"d":0.177},{"T":28.5,"t":9.6,"d":0.07},
      {"T":29.5,"t":5.625,"d":0.07},{"T":29.5,"t":6,"d":0.127},{"T":29.5,"t":6.5,"d":0.164},{"T":29.5,"t":7,"d":0.192},{"T":29.5,"t":7.5,"d":0.208},{"T":29.5,"t":8,"d":0.209},{"T":29.5,"t":8.5,"d":0.184},{"T":29.5,"t":9,"d":0.131},{"T":29.5,"t":9.2,"d":0.07},
      {"T":30.5,"t":5.875,"d":0.07},{"T":30.5,"t":6,"d":0.103},{"T":30.5,"t":6.5,"d":0.147},{"T":30.5,"t":7,"d":0.175},{"T":30.5,"t":7.5,"d":0.19},{"T":30.5,"t":8,"d":0.186},{"T":30.5,"t":8.5,"d":0.15},{"T":30.5,"t":8.833,"d":0.07},
      {"T":31.5,"t":6.147,"d":0.07},{"T":31.5,"t":6.5,"d":0.127},{"T":31.5,"t":7,"d":0.157},{"T":31.5,"t":7.5,"d":0.169},{"T":31.5,"t":8,"d":0.159},{"T":31.5,"t":8.5,"d":0.07},
      {"T":32.5,"t":6.441,"d":0.07},{"T":32.5,"t":6.5,"d":0.092},{"T":32.5,"t":7,"d":0.134},{"T":32.5,"t":7.5,"d":0.144},{"T":32.5,"t":8,"d":0.12},{"T":32.5,"t":8.167,"d":0.07},
      {"T":33.2,"t":6.9,"d":0.07},{"T":33.2,"t":7,"d":0.096},{"T":33.2,"t":7.5,"d":0.105},{"T":33.2,"t":7.688,"d":0.07}
    ],
    "labels": [
      {"t":0.435,"d":3.713,"s":"TRI−Wall, Inj = D103; Thermocouple = TC1","k":"main"},
      {"t":0.435,"d":3.469,"s":"Fuel = nC12 ;T","k":"main"},
      {"t":3.86,"d":3.412,"s":"amb","k":"sub"},
      {"t":4.72,"d":3.469,"s":"= 900 K; ρ","k":"main"},
      {"t":7.04,"d":3.412,"s":"amb","k":"sub"},
      {"t":7.88,"d":3.469,"s":"= 35 kg/m","k":"main"},
      {"t":10.07,"d":3.533,"s":"3","k":"sup"},
      {"t":0.435,"d":3.241,"s":"p","k":"main"},
      {"t":0.75,"d":3.149,"s":"rail","k":"sub"},
      {"t":1.33,"d":3.241,"s":"= 150 MPa; d","k":"main"},
      {"t":4.36,"d":3.149,"s":"w","k":"sub"},
      {"t":4.72,"d":3.241,"s":"= 30 mm; θ","k":"main"},
      {"t":7.27,"d":3.149,"s":"w","k":"sub"},
      {"t":7.65,"d":3.241,"s":"= 90 º; T","k":"main"},
      {"t":9.66,"d":3.149,"s":"w","k":"sub"},
      {"t":10.04,"d":3.241,"s":"= 550 K","k":"main"}
    ]
  },
  "layer": [
    {
      "data": {"name": "bands"},
      "mark": {"type": "area", "interpolate": "monotone", "clip": true},
      "encoding": {
        "x": {
          "field": "t", "type": "quantitative",
          "scale": {"domain": [0, 20], "nice": false, "zero": false},
          "axis": {
            "title": "Time ASOE [ms]", "values": [2, 4, 6, 8, 10, 12, 14, 16, 18],
            "grid": true, "gridColor": "#000000", "gridDash": [1.5, 5.8], "gridWidth": 1.2, "gridOpacity": 0.85,
            "domain": false, "tickSize": -5, "tickColor": "#262626", "tickWidth": 1,
            "labelFontSize": 17, "labelColor": "#262626", "labelPadding": 13.5, "labelFlush": false,
            "titleFontSize": 18, "titleColor": "#262626", "titleFontWeight": "normal", "titlePadding": 4,
            "zindex": 1
          }
        },
        "y": {
          "field": "d", "type": "quantitative", "stack": null,
          "scale": {"domain": [0.07, 3.87], "nice": false, "zero": false},
          "axis": {
            "title": "Wall depth [mm]", "values": [0.5, 1, 1.5, 2, 2.5, 3, 3.5], "format": "~g",
            "grid": true, "gridColor": "#000000", "gridDash": [1.5, 5.8], "gridWidth": 1.2, "gridOpacity": 0.85,
            "domain": false, "tickSize": -5, "tickColor": "#262626", "tickWidth": 1,
            "labelFontSize": 17, "labelColor": "#262626", "labelPadding": 13.5,
            "titleFontSize": 18, "titleColor": "#262626", "titleFontWeight": "normal", "titlePadding": 5,
            "zindex": 1
          }
        },
        "y2": {"datum": 0.07},
        "color": {
          "field": "T", "type": "quantitative",
          "scale": {
            "domain": [33.4, 29.16, 20.68, 12.19, 3.71, 0],
            "range": ["#800000", "#FF0000", "#FFFF00", "#00FFFF", "#0000FF", "#00008F"],
            "interpolate": "rgb"
          },
          "legend": {
            "orient": "none", "legendX": 32, "legendY": 83, "direction": "vertical",
            "title": null, "values": [0, 33.4], "gradientLength": 56, "gradientThickness": 20,
            "gradientStrokeColor": "white", "gradientStrokeWidth": 2,
            "labelColor": "white", "labelFontSize": 14.5, "labelOffset": 10, "labelBaseline": "middle",
            "labelOverlap": false, "padding": 0,
            "labelExpr": "datum.value < 1 ? 'ΔT = 0 K' : 'ΔT = 33.4 K'"
          }
        }
      }
    },
    {
      "data": {"name": "labels"},
      "mark": {"type": "text", "align": "left", "baseline": "alphabetic", "color": "white", "font": "Liberation Sans"},
      "encoding": {
        "x": {"field": "t", "type": "quantitative"},
        "y": {"field": "d", "type": "quantitative"},
        "text": {"field": "s", "type": "nominal"},
        "size": {"field": "k", "type": "nominal", "scale": {"domain": ["main", "sub", "sup"], "range": [14.5, 10.5, 10.5]}, "legend": null}
      }
    }
  ]
}
